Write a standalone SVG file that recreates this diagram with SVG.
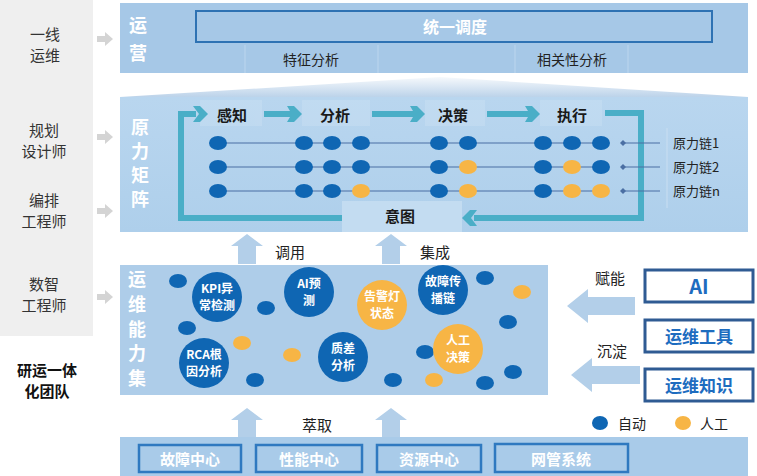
<svg xmlns="http://www.w3.org/2000/svg" width="757" height="476" viewBox="0 0 757 476">
<defs>
<style>
text{font-family:"Noto Sans CJK SC","Liberation Sans",sans-serif}
.lbl{font-size:15px;fill:#333;text-anchor:middle}
.vt{font-size:18px;font-weight:bold;fill:#fff;text-anchor:middle}
.stage{font-size:15px;font-weight:bold;fill:#1a1a1a;text-anchor:middle}
.chain{font-size:13px;fill:#222}
.ct{font-size:12px;font-weight:bold;fill:#fff;text-anchor:middle}
.b{fill:#0f66b3}
.o{fill:#f7b545}
.garr{fill:#d4d4d4}
.barr{fill:#b3cfe9}
.teal{fill:#4aaec7}
.rbox{fill:#fff;stroke:#2f5b93;stroke-width:3}
.rtxt{font-weight:bold;fill:#1d6cbf;text-anchor:middle}
.ibox{fill:#a9cbe9;stroke:#2f79c0;stroke-width:2.5}
.itxt{font-size:15px;font-weight:bold;fill:#fff;text-anchor:middle}
.chl{stroke:#4b6fa3;stroke-width:1.2}
</style>
<linearGradient id="fan" x1="0" y1="0" x2="0" y2="1">
<stop offset="0" stop-color="#f6f9fc"/>
<stop offset="1" stop-color="#bcd3ea"/>
</linearGradient>
<linearGradient id="mat" x1="0" y1="0" x2="0" y2="1">
<stop offset="0" stop-color="#b9d6ef"/>
<stop offset="1" stop-color="#aecfeb"/>
</linearGradient>
</defs>
<rect width="757" height="476" fill="#fff"/>

<g id="team-panel">
<rect x="0" y="0" width="93" height="336" fill="#efefef"/>
<text class="lbl" x="45" y="40">一线</text>
<text class="lbl" x="45" y="61">运维</text>
<text class="lbl" x="44" y="136">规划</text>
<text class="lbl" x="44" y="157">设计师</text>
<text class="lbl" x="44" y="206">编排</text>
<text class="lbl" x="44" y="227">工程师</text>
<text class="lbl" x="44" y="290">数智</text>
<text class="lbl" x="44" y="311">工程师</text>
<text x="47" y="376" style="font-size:15px;font-weight:bold;fill:#111;text-anchor:middle">研运一体</text>
<text x="47" y="397" style="font-size:15px;font-weight:bold;fill:#111;text-anchor:middle">化团队</text>
<polygon class="garr" points="97,36 105,36 105,32 113,39 105,46 105,42 97,42"/>
<polygon class="garr" points="97,134 105,134 105,130 113,137 105,144 105,140 97,140"/>
<polygon class="garr" points="97,208 105,208 105,204 113,211 105,218 105,214 97,214"/>
<polygon class="garr" points="97,294 105,294 105,290 113,297 105,304 105,300 97,300"/>
</g>

<g id="ops-layer">
<rect x="120" y="3" width="628" height="70" fill="#a6c8e7"/>
<text class="vt" x="138" y="32">运</text>
<text class="vt" x="138" y="60">营</text>
<rect x="196" y="11" width="516" height="31" fill="#a6c8e7" stroke="#2e72b3" stroke-width="2"/>
<text x="455" y="33" style="font-size:16px;font-weight:bold;fill:#fff;text-anchor:middle">统一调度</text>
<g stroke="#bcd6ee" stroke-width="1">
<line x1="245" y1="45" x2="245" y2="73"/>
<line x1="378" y1="45" x2="378" y2="73"/>
<line x1="515" y1="45" x2="515" y2="73"/>
<line x1="628" y1="45" x2="628" y2="73"/>
</g>
<text x="311" y="65" style="font-size:14px;fill:#222;text-anchor:middle">特征分析</text>
<text x="572" y="65" style="font-size:14px;fill:#222;text-anchor:middle">相关性分析</text>
</g>

<g id="fan-shape">
<polygon points="120,97 440,77 748,97" fill="url(#fan)"/>
</g>

<g id="force-matrix">
<rect x="120" y="97" width="628" height="135" fill="url(#mat)"/>
<text class="vt" x="140" y="134">原</text>
<text class="vt" x="140" y="158">力</text>
<text class="vt" x="140" y="182">矩</text>
<text class="vt" x="140" y="206">阵</text>
<g fill="#fff" opacity="0.12">
<rect x="200" y="100" width="62" height="26"/>
<rect x="302" y="100" width="68" height="26"/>
<rect x="425" y="100" width="60" height="26"/>
<rect x="540" y="100" width="62" height="26"/>
</g>
<line x1="667" y1="128" x2="667" y2="208" stroke="#c9def1" stroke-width="1"/>
<rect x="342" y="201" width="120" height="31" fill="#c3dcf1"/>
<text class="stage" x="400" y="222">意图</text>
<text class="stage" x="232" y="121">感知</text>
<text class="stage" x="335" y="121">分析</text>
<text class="stage" x="453" y="121">决策</text>
<text class="stage" x="572" y="121">执行</text>
</g>

<g id="connectors">
<path d="M342,218 H181 V114 H196" fill="none" stroke="#4aaec7" stroke-width="6"/>
<polygon class="teal" points="193,106 200,106 208,114 200,122 193,122 199,114"/>
<path d="M605,113 H641 V218 H474" fill="none" stroke="#4aaec7" stroke-width="6"/>
<polygon class="teal" points="477,210 470,210 462,218 470,226 477,226 471,218"/>
<polygon class="teal" points="264,111 290,111 287,106 294,106 302,114 294,122 287,122 290,117 264,117"/>
<polygon class="teal" points="372,111 413,111 410,106 417,106 425,114 417,122 410,122 413,117 372,117"/>
<polygon class="teal" points="487,111 528,111 525,106 532,106 540,114 532,122 525,122 528,117 487,117"/>
<g>
<line class="chl" x1="218" y1="143" x2="601" y2="143"/>
<line class="chl" x1="218" y1="167" x2="601" y2="167"/>
<line class="chl" x1="218" y1="191" x2="601" y2="191"/>
<line class="chl" x1="623" y1="143" x2="660" y2="143"/>
<line class="chl" x1="623" y1="167" x2="660" y2="167"/>
<line class="chl" x1="623" y1="191" x2="660" y2="191"/>
<g fill="#4b6fa3">
<polygon points="623,140 626,143 623,146 620,143"/>
<polygon points="623,164 626,167 623,170 620,167"/>
<polygon points="623,188 626,191 623,194 620,191"/>
</g>
</g>
<polygon class="barr" points="247,234 263,246 256,246 256,264 238,264 238,246 231,246"/>
<polygon class="barr" points="391,234 407,246 400,246 400,264 382,264 382,246 375,246"/>
<polygon class="barr" points="247,408 263,420 256,420 256,437 238,437 238,420 231,420"/>
<polygon class="barr" points="391,408 407,420 400,420 400,437 382,437 382,420 375,420"/>
<polygon class="barr" points="635,297 588,297 588,289 567,306 588,323 588,315 635,315"/>
<polygon class="barr" points="640,366 592,366 592,358 571,375 592,392 592,384 640,384"/>
<text x="290" y="258" style="font-size:15px;fill:#222;text-anchor:middle">调用</text>
<text x="435" y="258" style="font-size:15px;fill:#222;text-anchor:middle">集成</text>
<text x="317" y="431" style="font-size:15px;fill:#222;text-anchor:middle">萃取</text>
<text x="610" y="284" style="font-size:15px;fill:#222;text-anchor:middle">赋能</text>
<text x="612" y="357" style="font-size:15px;fill:#222;text-anchor:middle">沉淀</text>
</g>

<g id="chain-dots">
<ellipse class="b" cx="218" cy="143" rx="9" ry="7"/>
<ellipse class="b" cx="304" cy="143" rx="9" ry="7"/>
<ellipse class="b" cx="332" cy="143" rx="9" ry="7"/>
<ellipse class="b" cx="361" cy="143" rx="9" ry="7"/>
<ellipse class="b" cx="439" cy="143" rx="9" ry="7"/>
<ellipse class="b" cx="468" cy="143" rx="9" ry="7"/>
<ellipse class="b" cx="543" cy="143" rx="9" ry="7"/>
<ellipse class="b" cx="572" cy="143" rx="9" ry="7"/>
<ellipse class="b" cx="601" cy="143" rx="9" ry="7"/>
<ellipse class="b" cx="218" cy="167" rx="9" ry="7"/>
<ellipse class="b" cx="304" cy="167" rx="9" ry="7"/>
<ellipse class="b" cx="332" cy="167" rx="9" ry="7"/>
<ellipse class="b" cx="361" cy="167" rx="9" ry="7"/>
<ellipse class="b" cx="439" cy="167" rx="9" ry="7"/>
<ellipse class="o" cx="468" cy="167" rx="9" ry="7"/>
<ellipse class="b" cx="543" cy="167" rx="9" ry="7"/>
<ellipse class="o" cx="572" cy="167" rx="9" ry="7"/>
<ellipse class="b" cx="601" cy="167" rx="9" ry="7"/>
<ellipse class="b" cx="218" cy="191" rx="9" ry="7"/>
<ellipse class="b" cx="304" cy="191" rx="9" ry="7"/>
<ellipse class="b" cx="332" cy="191" rx="9" ry="7"/>
<ellipse class="o" cx="361" cy="191" rx="9" ry="7"/>
<ellipse class="b" cx="439" cy="191" rx="9" ry="7"/>
<ellipse class="o" cx="468" cy="191" rx="9" ry="7"/>
<ellipse class="b" cx="543" cy="191" rx="9" ry="7"/>
<ellipse class="o" cx="572" cy="191" rx="9" ry="7"/>
<ellipse class="o" cx="601" cy="191" rx="9" ry="7"/>
<text class="chain" x="673" y="148">原力链1</text>
<text class="chain" x="673" y="172">原力链2</text>
<text class="chain" x="673" y="196">原力链n</text>
</g>

<g id="capability-set">
<rect x="120" y="265" width="428" height="130" fill="#aecde9"/>
<text class="vt" x="137" y="286">运</text>
<text class="vt" x="137" y="311">维</text>
<text class="vt" x="137" y="336">能</text>
<text class="vt" x="137" y="360">力</text>
<text class="vt" x="137" y="385">集</text>
<ellipse class="b" cx="178" cy="281" rx="9" ry="7"/>
<ellipse class="b" cx="266" cy="308" rx="9" ry="7"/>
<ellipse class="b" cx="187" cy="328" rx="9" ry="7"/>
<ellipse class="b" cx="255" cy="380" rx="9" ry="7"/>
<ellipse class="b" cx="393" cy="380" rx="9" ry="7"/>
<ellipse class="b" cx="425" cy="352" rx="9" ry="7"/>
<ellipse class="b" cx="485" cy="278" rx="9" ry="7"/>
<ellipse class="b" cx="508" cy="322" rx="9" ry="7"/>
<ellipse class="b" cx="513" cy="372" rx="9" ry="7"/>
<ellipse class="b" cx="485" cy="383" rx="9" ry="7"/>
<ellipse class="o" cx="242" cy="343" rx="9" ry="7"/>
<ellipse class="o" cx="292" cy="355" rx="9" ry="7"/>
<ellipse class="o" cx="522" cy="292" rx="9" ry="7"/>
<ellipse class="o" cx="434" cy="380" rx="9" ry="7"/>
</g>

<g id="cap-kpi"><circle class="b" cx="217" cy="297" r="25"/><text class="ct" x="217" y="293">KPI异</text><text class="ct" x="217" y="310">常检测</text></g>
<g id="cap-ai"><circle class="b" cx="309" cy="292" r="25"/><text class="ct" x="309" y="288">AI预</text><text class="ct" x="309" y="305">测</text></g>
<g id="cap-alarm"><circle class="o" cx="382" cy="305" r="25"/><text class="ct" x="382" y="301">告警灯</text><text class="ct" x="382" y="318">状态</text></g>
<g id="cap-fault"><circle class="b" cx="443" cy="290" r="25"/><text class="ct" x="443" y="286">故障传</text><text class="ct" x="443" y="303">播链</text></g>
<g id="cap-rca"><circle class="b" cx="204" cy="363" r="25"/><text class="ct" x="204" y="359">RCA根</text><text class="ct" x="204" y="376">因分析</text></g>
<g id="cap-quality"><circle class="b" cx="343" cy="357" r="25"/><text class="ct" x="343" y="353">质差</text><text class="ct" x="343" y="370">分析</text></g>
<g id="cap-manual"><circle class="o" cx="458" cy="349" r="25"/><text class="ct" x="458" y="345">人工</text><text class="ct" x="458" y="362">决策</text></g>

<g id="enable-ai"><rect class="rbox" x="645" y="270" width="108" height="32"/><text class="rtxt" x="699" y="294" style="font-size:20px">AI</text></g>
<g id="enable-tools"><rect class="rbox" x="645" y="320" width="108" height="32"/><text class="rtxt" x="699" y="343" style="font-size:17px">运维工具</text></g>
<g id="enable-knowledge"><rect class="rbox" x="645" y="369" width="108" height="32"/><text class="rtxt" x="699" y="392" style="font-size:17px">运维知识</text></g>

<g id="legend">
<ellipse class="b" cx="600" cy="423" rx="8" ry="7"/>
<text x="618" y="429" style="font-size:14px;fill:#222">自动</text>
<ellipse class="o" cx="683" cy="423" rx="8" ry="7"/>
<text x="700" y="429" style="font-size:14px;fill:#222">人工</text>
</g>

<g id="data-sources">
<rect x="120" y="437" width="628" height="39" fill="#a9cbe9"/>
<g id="src-fault"><rect class="ibox" x="139" y="445" width="102" height="27"/><text class="itxt" x="190" y="465">故障中心</text></g>
<g id="src-perf"><rect class="ibox" x="256" y="445" width="106" height="27"/><text class="itxt" x="309" y="465">性能中心</text></g>
<g id="src-res"><rect class="ibox" x="377" y="445" width="104" height="27"/><text class="itxt" x="429" y="465">资源中心</text></g>
<g id="src-nms"><rect class="ibox" x="495" y="444" width="133" height="28"/><text class="itxt" x="561" y="465">网管系统</text></g>
</g>
</svg>
